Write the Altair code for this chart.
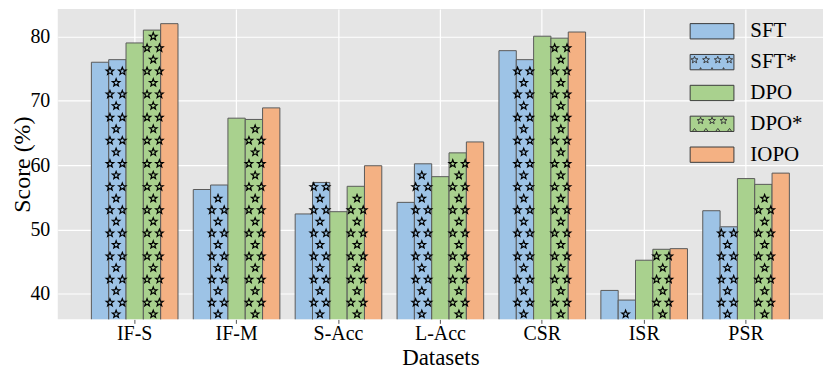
import math
import altair as alt
import pandas as pd

# ---------------- data ----------------
categories = ["IF-S", "IF-M", "S-Acc", "L-Acc", "CSR", "ISR", "PSR"]
series = ["SFT", "SFT*", "DPO", "DPO*", "IOPO"]
sft = [76.0, 56.2, 52.4, 54.2, 77.8, 40.5, 52.9]
sft_star = [76.4, 56.9, 57.3, 60.2, 76.4, 39.0, 50.4]
dpo = [79.0, 67.3, 52.75, 58.2, 80.05, 45.2, 57.9]
dpo_star = [81.0, 67.1, 56.7, 61.9, 79.75, 46.9, 57.0]
iopo = [82.0, 68.9, 59.9, 63.6, 80.7, 47.0, 58.75]
colors = ["#9DC3E6", "#9DC3E6", "#A9D18E", "#A9D18E", "#F4B183"]
edge_colors = ["#3a3a3a"] * 5
hatched = ["SFT*", "DPO*"]

values = {"SFT": sft, "SFT*": sft_star, "DPO": dpo, "DPO*": dpo_star, "IOPO": iopo}
rows = []
for s in series:
    for c, v in zip(categories, values[s]):
        rows.append({"cat": c, "series": s, "score": v})
df = pd.DataFrame(rows)

# ---------------- star hatch texture ----------------
Y_MIN, Y_MAX = 36.0, 84.3
ROW0, ROWSTEP = 74.67, 1.8


def star_path(cx, cy, R, r):
    pts = []
    for i in range(10):
        ang = -math.pi / 2 + i * math.pi / 5
        rad = R if i % 2 == 0 else r
        pts.append((cx + rad * math.cos(ang), cy + rad * math.sin(ang)))
    return "M" + "L".join(f"{x:.3f},{y:.3f}" for x, y in pts) + "Z"


star_rows = []
for s in hatched:
    for c, v in zip(categories, values[s]):
        k = math.floor((Y_MIN - 0.6 - ROW0) / ROWSTEP)
        while True:
            y = ROW0 + k * ROWSTEP
            if y > v - 0.35:
                break
            slots = ["L", "R"] if k % 2 == 0 else ["C"]
            for sl in slots:
                star_rows.append({"cat": c, "slot": f"{s}|{sl}", "y": y})
            k += 1
stars_df = pd.DataFrame(star_rows)
slot_domain = [f"{s}|{sl}" for s in series for sl in ["L", "C", "R"]]

# ---------------- legend symbols ----------------
RECT = "M-2,-0.7H2V0.7H-2Z"
sft_star_sym = RECT + "".join(star_path(x, -0.2, 0.33, 0.14) for x in [-1.6, -0.55, 0.52, 1.57])
sft_star_sym += "".join(f"M{x-0.06:.2f},0.6L{x+0.06:.2f},0.6L{x:.2f},0.5Z" for x in [-1.05, 0, 1.05])
dpo_star_sym = RECT + "".join(star_path(x, -0.28, 0.33, 0.14) for x in [-1.05, 0, 1.05])
dpo_star_sym += "".join(f"M{x-0.2:.2f},0.7L{x:.2f},0.42L{x+0.2:.2f},0.7" for x in [-1.6, -0.56, 0.53, 1.6])
legend_shapes = [RECT, sft_star_sym, RECT, dpo_star_sym, RECT]

FONT = "Liberation Serif"

x_scale = alt.Scale(domain=categories, paddingInner=0.15, paddingOuter=0.33)
y_scale = alt.Scale(domain=[Y_MIN, Y_MAX], zero=False, nice=False)
color_scale = alt.Scale(domain=series, range=colors)
shape_scale = alt.Scale(domain=series, range=legend_shapes)
stroke_scale = alt.Scale(domain=series, range=edge_colors)

x_axis = alt.Axis(
    title="Datasets", titleFontSize=23, titleFont=FONT, titleFontWeight="normal",
    titleColor="black", titleY=45, titleBaseline="alphabetic",
    labelFont=FONT, labelFontSize=20, labelColor="black", labelAngle=0, labelPadding=0,
    tickColor="#555555", tickSize=4, tickWidth=1, domain=False,
    grid=True, gridColor="white", gridWidth=1.2, bandPosition=0.5,
)
y_axis = alt.Axis(
    title="Score (%)", titleFontSize=24, titleFont=FONT, titleFontWeight="normal",
    titleColor="black", titleAngle=270, titleX=-28, titleY=156,
    titleBaseline="alphabetic", titleAlign="center",
    labelFont=FONT, labelFontSize=20, labelColor="black", labelPadding=8,
    values=[40, 50, 60, 70, 80], ticks=False, tickSize=0, domain=False,
    grid=True, gridColor="white", gridWidth=1.2,
)

legend_props = dict(
    orient="none", legendX=646, legendY=11, padding=0, title=None,
    labelFont=FONT, labelFontSize=21, labelColor="black", labelOffset=27,
    labelLimit=0, symbolSize=484, rowPadding=9, symbolOpacity=1,
    symbolStrokeWidth=1,
)

legend_layer = alt.Chart(df).transform_filter("false").mark_point(
    filled=True, opacity=1, size=484, strokeWidth=1,
).encode(
    x=alt.X("cat:N", scale=x_scale, axis=x_axis, sort=categories),
    y=alt.Y("score:Q", scale=y_scale, axis=y_axis),
    color=alt.Color("series:N", scale=color_scale, title=None, legend=alt.Legend(**legend_props)),
    shape=alt.Shape("series:N", scale=shape_scale, title=None, legend=alt.Legend(**legend_props)),
    stroke=alt.Stroke("series:N", scale=stroke_scale, title=None, legend=alt.Legend(**legend_props)),
)

bars = alt.Chart(df).mark_bar(stroke="#5a5a5a", strokeWidth=1, clip=True).encode(
    x=alt.X("cat:N", scale=x_scale, axis=x_axis, sort=categories),
    xOffset=alt.XOffset("series:N", scale=alt.Scale(domain=series, paddingInner=0, paddingOuter=0), sort=series),
    y=alt.Y("score:Q", scale=y_scale, axis=y_axis),
    color=alt.Color("series:N", scale=color_scale, title=None, legend=alt.Legend(**legend_props)),
)

stars = alt.Chart(stars_df).mark_point(
    shape=star_path(0, 0.1, 1, 0.42), filled=False, color="black", size=64,
    strokeWidth=1.2, opacity=1, clip=True,
).encode(
    x=alt.X("cat:N", scale=x_scale, axis=x_axis, sort=categories),
    xOffset=alt.XOffset("slot:N", scale=alt.Scale(domain=slot_domain, paddingInner=0, paddingOuter=0)),
    y=alt.Y("y:Q", scale=y_scale, axis=y_axis),
)

chart = alt.layer(legend_layer, bars, stars).resolve_scale(
    xOffset="independent"
).properties(
    width=769, height=312,
    padding={"left": 50, "top": 0, "right": 0, "bottom": 50},
    autosize=alt.AutoSizeParams(type="none"),
).configure(font=FONT).configure_view(fill="#E5E5E5", stroke=None)

chart.save("out.html", embed_options={"renderer": "svg", "actions": False})
